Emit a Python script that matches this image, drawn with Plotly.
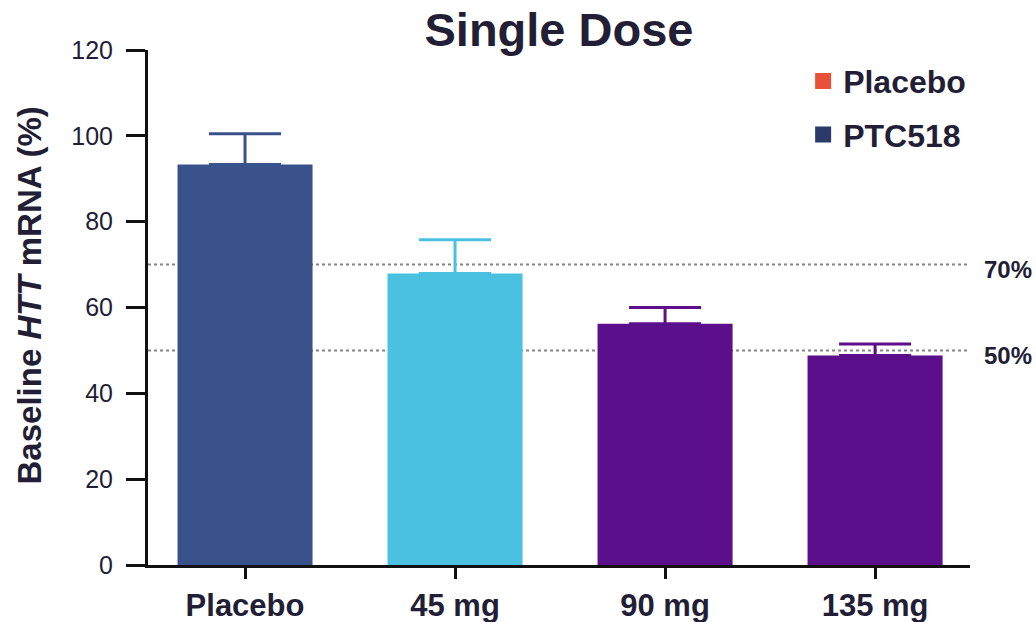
import plotly.graph_objects as go

# Data
categories = ["Placebo", "45 mg", "90 mg", "135 mg"]
mean_pct = [93.3, 67.9, 56.2, 48.8]
err_upper = [7.2, 7.9, 3.8, 2.7]
bar_colors = ["#3A528B", "#4AC1E0", "#5B0F8A", "#5B0F8A"]
ref_levels = [70, 50]
ref_labels = ["70%", "50%"]
legend_names = ["Placebo", "PTC518"]
legend_colors = ["#E8503A", "#2B3A6B"]
y_ticks = [0, 20, 40, 60, 80, 100, 120]

TEXT = "#221E35"
FONT = "Liberation Sans, Arial, sans-serif"

fig = go.Figure()

# one bar trace per group so each error bar takes the bar colour
for cat, m, e, c in zip(categories, mean_pct, err_upper, bar_colors):
    fig.add_trace(go.Bar(
        x=[cat], y=[m], width=0.643,
        marker=dict(color=c, line=dict(width=0)),
        error_y=dict(type="data", symmetric=False, array=[e], arrayminus=[0],
                     color=c, thickness=3, width=36),
        showlegend=False, hoverinfo="x+y",
    ))

# legend entries
for i, (name, col) in enumerate(zip(legend_names, legend_colors)):
    fig.add_trace(go.Scatter(
        x=[None], y=[None], mode="markers", name=f"<b>{name}</b>",
        marker=dict(symbol="square", size=19, color=col),
        legendgroup=f"g{i}",
    ))

# dotted reference levels with labels
for lvl, lab in zip(ref_levels, ref_labels):
    fig.add_shape(type="line", xref="paper", x0=0, x1=1, yref="y", y0=lvl, y1=lvl,
                  line=dict(color="#858585", width=2, dash="dot"), layer="below")
    fig.add_annotation(xref="paper", x=1, xanchor="left", xshift=12,
                       yref="y", y=lvl, yshift=-5, yanchor="middle",
                       text=f"<b>{lab}</b>", showarrow=False,
                       font=dict(family=FONT, size=24, color=TEXT))

# y-axis title
fig.add_annotation(xref="paper", x=0, xanchor="center", xshift=-119,
                   yref="paper", y=0.5, yshift=12, yanchor="middle",
                   text="<b>Baseline <i>HTT</i> mRNA (%)</b>", textangle=-90,
                   showarrow=False, font=dict(family=FONT, size=33, color=TEXT))

fig.update_layout(
    width=1036, height=622,
    margin=dict(l=148, r=66, t=50, b=57, autoexpand=False),
    paper_bgcolor="white", plot_bgcolor="white",
    font=dict(family=FONT, color=TEXT),
    title=dict(text="<b>Single Dose</b>", x=0.5, xref="paper", xanchor="center",
               y=1 - 30 / 622, yref="container", yanchor="middle",
               font=dict(family=FONT, size=47, color=TEXT)),
    bargap=0.357,
    showlegend=True,
    legend=dict(xref="paper", yref="paper", x=0.797, xanchor="left",
                y=0.993, yanchor="top", tracegroupgap=9,
                font=dict(family=FONT, size=32, color=TEXT),
                bgcolor="rgba(0,0,0,0)", itemclick=False),
    xaxis=dict(range=[-0.462, 3.452], showline=True, linecolor="#111111", linewidth=3,
               ticks="outside", ticklen=11, tickwidth=3, tickcolor="#111111",
               tickfont=dict(family=FONT, size=31, color=TEXT),
               tickvals=categories, ticktext=[f"<b>{c}</b>" for c in categories],
               showgrid=False, zeroline=False, fixedrange=True),
    yaxis=dict(range=[0, 120], tickvals=y_ticks, showline=True, linecolor="#111111",
               linewidth=3, ticks="outside", ticklen=19, tickwidth=3, tickcolor="#111111",
               tickfont=dict(family=FONT, size=25, color=TEXT), ticklabelstandoff=8,
               showgrid=False, zeroline=False, fixedrange=True),
)

fig.write_html("out.html")
